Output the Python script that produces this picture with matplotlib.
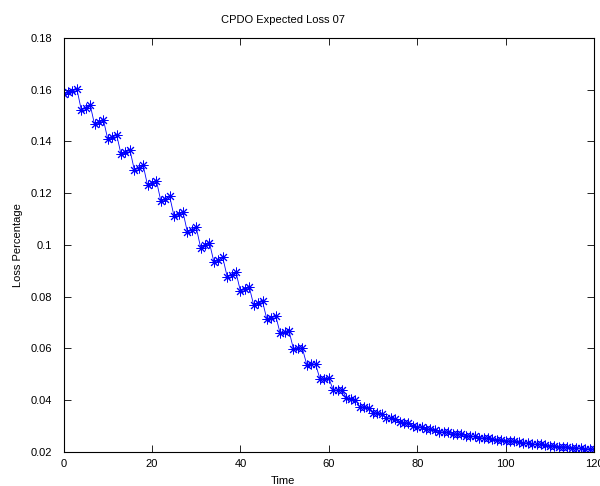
import numpy as np
import matplotlib
matplotlib.use("Agg")
import matplotlib.pyplot as plt

# Expected loss per month
time = np.arange(0, 121)
loss = [
    0.1585, 0.1590, 0.1595, 0.1603,
    0.1522, 0.1530, 0.1542,
    0.1466, 0.1474, 0.1484,
    0.1408, 0.1416, 0.1426,
    0.1350, 0.1358, 0.1368,
    0.1290, 0.1298, 0.1308,
    0.1230, 0.1238, 0.1248,
    0.1170, 0.1178, 0.1188,
    0.1110, 0.1118, 0.1128,
    0.1050, 0.1058, 0.1068,
    0.0990, 0.0998, 0.1008,
    0.0935, 0.0942, 0.0952,
    0.0878, 0.0885, 0.0894,
    0.0822, 0.0829, 0.0838,
    0.0768, 0.0774, 0.0782,
    0.0712, 0.0718, 0.0726,
    0.0658, 0.0662, 0.0668,
    0.0598, 0.0600, 0.0602,
    0.0538, 0.0539, 0.0540,
    0.0482, 0.0483, 0.0485,
    0.0440, 0.0439, 0.0438,
    0.0408, 0.0405, 0.0402,
    0.0375, 0.0372, 0.0370,
    0.0352, 0.0349, 0.0347,
    0.0332, 0.0330, 0.0329,
    0.0315, 0.0313, 0.0312,
    0.0300, 0.0298, 0.0297,
    0.0288, 0.0287, 0.0286,
    0.0278, 0.0277, 0.0276,
    0.0270, 0.0269, 0.0268,
    0.0262, 0.0261, 0.0260,
    0.0255, 0.0254, 0.0253,
    0.0249, 0.0248, 0.0247,
    0.0243, 0.0242, 0.0241,
    0.0237, 0.0236, 0.0235,
    0.0231, 0.0230, 0.0229,
    0.0226, 0.0225, 0.0224,
    0.0221, 0.0220, 0.0219,
    0.0217, 0.0216, 0.0215,
    0.0213, 0.0212, 0.0211,
]

x_ticks = [0, 20, 40, 60, 80, 100, 120]
y_ticks = [0.02, 0.04, 0.06, 0.08, 0.1, 0.12, 0.14, 0.16, 0.18]
y_tick_labels = ["0.02", "0.04", "0.06", "0.08", "0.1", "0.12", "0.14", "0.16", "0.18"]

plt.rcParams["font.family"] = ["Liberation Sans", "DejaVu Sans"]
plt.rcParams["font.size"] = 8

fig = plt.figure(figsize=(6, 4.86), dpi=100)
ax = fig.add_axes([0.106, 0.070, 0.884, 0.852])

# MATLAB '*' marker -> 8-spoke asterisk
ax.plot(time, loss, color="blue", linestyle="-", linewidth=0.6,
        marker=(8, 2, 0), markersize=7, markeredgewidth=0.7)

ax.set_xlim(0, 120)
ax.set_ylim(0.02, 0.18)
ax.set_xticks(x_ticks)
ax.set_yticks(y_ticks)
ax.set_yticklabels(y_tick_labels)

# boxed axes with inward ticks on all sides
ax.tick_params(direction="in", top=True, right=True, length=5, width=0.6)
ax.tick_params(axis="x", pad=5)
ax.tick_params(axis="y", pad=8)
for spine in ax.spines.values():
    spine.set_linewidth(0.8)

# title and x label sit left of the axes centre in the (cropped) reference
fig.text(283 / 600, 1 - 20 / 486, "CPDO Expected Loss 07", ha="center", va="center", fontsize=8)
fig.text(283 / 600, 1 - 481 / 486, "Time", ha="center", va="center", fontsize=8)
ax.set_ylabel("Loss Percentage", fontsize=8, labelpad=6)

fig.savefig("out.png", dpi=100)
